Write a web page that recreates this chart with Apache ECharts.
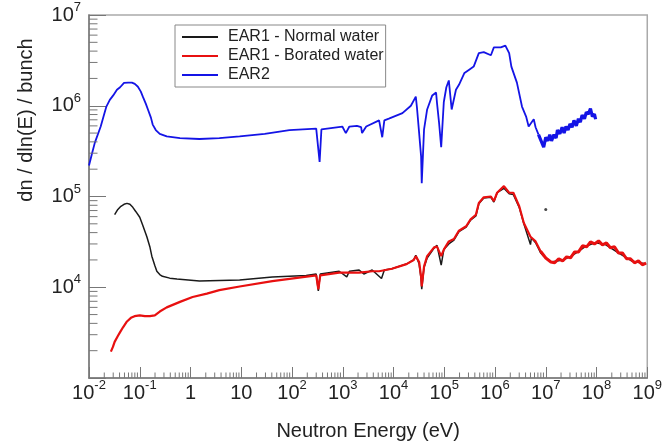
<!DOCTYPE html>
<html><head><meta charset="utf-8">
<script src="https://cdn.jsdelivr.net/npm/echarts@6/dist/echarts.min.js"></script>
<style>html,body{margin:0;padding:0;background:#fff}#c{width:665px;height:446px}</style>
</head><body><div id="c"></div>
<script>
// ---- Data ----
const seriesNames = ['EAR1 - Normal water', 'EAR1 - Borated water', 'EAR2'];

const normalE = [3.2e-2, 3.7e-2, 4.25e-2, 4.9e-2, 5.6e-2, 6.4e-2, 7.3e-2, 8.4e-2, 0.1, 0.115, 0.138, 0.158, 0.173, 0.198, 0.217, 0.248, 0.28, 0.39, 0.54, 1.5, 9.3, 41, 190, 300, 330, 360, 850, 1200, 1350, 2100, 2600, 3800, 5800, 6600, 9300, 1.8e4, 2.5e4, 2.75e4, 3.2e4, 3.5e4, 3.6e4, 4.0e4, 4.6e4, 6.3e4, 7.2e4, 8.7e4, 9.8e4, 1.23e5, 1.55e5, 1.95e5, 2.7e5, 3.3e5, 4.2e5, 4.8e5, 6.0e5, 8.3e5, 9.5e5, 1.1e6, 1.5e6, 1.9e6, 2.3e6, 3.0e6, 3.7e6, 5.0e6, 5.2e6, 6.3e6, 7.9e6, 9.1e6, 1.26e7, 2.2e7, 3.2e7, 6.0e7, 9.5e7, 1.5e8, 2.7e8, 4.9e8, 9.5e8];
const normalV = [6.3e4, 7.2e4, 7.8e4, 8.2e4, 8.4e4, 8.2e4, 7.6e4, 6.8e4, 5.9e4, 4.8e4, 3.6e4, 2.8e4, 2.2e4, 1.74e4, 1.5e4, 1.38e4, 1.32e4, 1.26e4, 1.23e4, 1.17e4, 1.2e4, 1.3e4, 1.35e4, 1.4e4, 9.1e3, 1.4e4, 1.5e4, 1.3e4, 1.5e4, 1.55e4, 1.4e4, 1.55e4, 1.25e4, 1.55e4, 1.6e4, 1.8e4, 2.0e4, 2.25e4, 1.8e4, 1.23e4, 9.5e3, 1.65e4, 2.1e4, 2.7e4, 2.9e4, 1.75e4, 2.6e4, 3.0e4, 3.3e4, 4.1e4, 4.6e4, 5.5e4, 6.1e4, 8.3e4, 9.6e4, 9.8e4, 8.7e4, 1.1e5, 1.23e5, 1.07e5, 1.05e5, 7.6e4, 5.0e4, 2.95e4, 3.5e4, 3.1e4, 2.4e4, 2.2e4, 1.9e4, 2.0e4, 2.2e4, 2.8e4, 3.1e4, 2.95e4, 2.4e4, 1.95e4, 1.8e4];
const normalOutlierE = [1.0e7];
const normalOutlierV = [7.2e4];

const boratedE = [2.7e-2, 2.96e-2, 3.2e-2, 3.7e-2, 4.1e-2, 4.65e-2, 5.6e-2, 6.7e-2, 7.9e-2, 0.1, 0.126, 0.158, 0.198, 0.248, 0.34, 0.62, 1.1, 2.1, 3.7, 9.3, 41, 300, 330, 360, 850, 2100, 3800, 5200, 9300, 1.8e4, 2.5e4, 2.75e4, 3.2e4, 3.5e4, 3.6e4, 4.0e4, 4.6e4, 6.3e4, 7.2e4, 8.7e4, 9.8e4, 1.23e5, 1.55e5, 1.95e5, 2.7e5, 3.3e5, 4.2e5, 4.8e5, 6.0e5, 8.3e5, 9.5e5, 1.1e6, 1.5e6, 1.9e6, 2.3e6, 3.0e6, 3.7e6, 5.0e6, 6.3e6, 7.9e6, 1.0e7, 1.26e7,
  1.5e7, 1.8e7, 2.15e7, 2.57e7, 3.08e7, 3.7e7, 4.43e7, 5.3e7, 6.4e7, 7.6e7, 9.1e7, 1.1e8, 1.31e8, 1.57e8, 1.88e8, 2.26e8, 2.7e8, 3.24e8, 3.9e8, 4.66e8, 5.6e8, 6.7e8, 8.0e8, 9.5e8];
const boratedV = [1.95e3, 2.2e3, 2.5e3, 2.9e3, 3.2e3, 3.6e3, 4.2e3, 4.6e3, 4.8e3, 4.9e3, 4.8e3, 4.8e3, 4.9e3, 5.4e3, 6.0e3, 6.9e3, 7.8e3, 8.5e3, 9.3e3, 1.02e4, 1.17e4, 1.35e4, 9.5e3, 1.35e4, 1.45e4, 1.45e4, 1.5e4, 1.5e4, 1.6e4, 1.8e4, 2.0e4, 2.2e4, 1.9e4, 1.3e4, 1.02e4, 1.7e4, 2.2e4, 2.75e4, 2.8e4, 2.2e4, 2.6e4, 3.2e4, 3.4e4, 4.2e4, 4.7e4, 5.6e4, 6.3e4, 8.5e4, 9.8e4, 1.0e5, 8.9e4, 1.1e5, 1.3e5, 1.1e5, 1.1e5, 7.8e4, 5.1e4, 3.6e4, 3.2e4, 2.5e4, 2.1e4, 1.9e4,
  1.86e4, 2.06e4, 1.95e4, 2.16e4, 2.11e4, 2.45e4, 2.45e4, 2.86e4, 2.79e4, 3.16e4, 3.0e4, 3.24e4, 2.93e4, 3.08e4, 2.72e4, 2.79e4, 2.39e4, 2.39e4, 2.06e4, 2.06e4, 1.86e4, 1.95e4, 1.77e4, 1.84e4];

const ear2E = [1.0e-2, 1.15e-2, 1.3e-2, 1.7e-2, 1.97e-2, 2.2e-2, 2.57e-2, 3.0e-2, 3.55e-2, 4.1e-2, 4.9e-2, 5.9e-2, 7.0e-2, 8.0e-2, 9.2e-2, 0.105, 0.115, 0.132, 0.145, 0.166, 0.18, 0.207, 0.248, 0.34, 0.62, 1.5, 3.7, 9.3, 29, 89, 300, 350, 380, 980, 1150, 1350, 1900, 2300, 2400, 2900, 5200, 6000, 6600, 8100, 1.5e4, 2.2e4, 2.75e4, 2.9e4, 3.2e4, 3.5e4, 3.6e4, 4.0e4, 4.6e4, 5.8e4, 6.9e4, 7.2e4, 7.9e4, 8.7e4, 9.8e4, 1.1e5, 1.23e5, 1.4e5, 1.7e5, 1.95e5, 2.5e5, 3.1e5, 3.8e5, 4.8e5, 6.0e5, 8.3e5, 9.5e5, 1.3e6, 1.6e6, 1.9e6, 2.1e6, 2.7e6, 3.4e6, 4.1e6, 4.6e6, 5.8e6, 6.3e6, 7.2e6,
  9.1e6, 1.0e7, 1.1e7, 1.2e7, 1.3e7, 1.45e7, 1.6e7, 1.7e7, 1.9e7, 2.1e7, 2.3e7, 2.5e7, 2.75e7, 3.0e7, 3.3e7, 3.6e7, 4.0e7, 4.4e7, 4.8e7, 5.2e7, 5.8e7, 6.3e7, 6.9e7, 7.6e7, 8.3e7, 9.1e7, 9.6e7];
const ear2V = [2.2e5, 3.0e5, 3.9e5, 5.9e5, 7.9e5, 9.8e5, 1.16e6, 1.3e6, 1.5e6, 1.6e6, 1.79e6, 1.8e6, 1.8e6, 1.74e6, 1.62e6, 1.43e6, 1.26e6, 1.05e6, 9.1e5, 7.4e5, 6.2e5, 5.4e5, 4.9e5, 4.6e5, 4.4e5, 4.3e5, 4.4e5, 4.6e5, 4.9e5, 5.4e5, 5.6e5, 2.4e5, 5.5e5, 5.9e5, 5.0e5, 5.9e5, 6.0e5, 5.8e5, 5.0e5, 5.9e5, 6.9e5, 4.5e5, 6.9e5, 7.2e5, 8.3e5, 1.0e6, 1.26e6, 9.5e5, 5.0e5, 2.75e5, 1.4e5, 5.5e5, 9.1e5, 1.3e6, 1.4e6, 1.07e6, 6.5e5, 3.5e5, 1.1e6, 1.6e6, 1.9e6, 9.1e5, 1.5e6, 1.7e6, 2.3e6, 2.5e6, 2.7e6, 3.8e6, 3.9e6, 3.6e6, 4.4e6, 4.4e6, 4.6e6, 3.8e6, 2.7e6, 1.8e6, 9.8e5, 7.6e5, 5.9e5, 7.1e5, 5.8e5, 4.8e5,
  3.5e5, 4.5e5, 4.1e5, 4.8e5, 4.1e5, 4.8e5, 4.4e5, 5.4e5, 4.9e5, 5.8e5, 5.0e5, 5.9e5, 5.4e5, 6.3e5, 5.8e5, 6.9e5, 6.0e5, 7.2e5, 6.6e5, 7.9e5, 7.2e5, 8.5e5, 8.1e5, 9.3e5, 7.6e5, 8.1e5, 7.1e5];

// Energy above which the measured points form a thick noisy band
const ear2BandFrom = 7.2e6;
const boratedBandFrom = 7.9e6;

// Axis ticks / labels
const xMajor = [1e-2, 1e-1, 1, 10, 1e2, 1e3, 1e4, 1e5, 1e6, 1e7, 1e8, 1e9];
const xTickLabels = ['10{s|-2}', '10{s|-1}', '1', '10', '10{s|2}', '10{s|3}', '10{s|4}', '10{s|5}', '10{s|6}', '10{s|7}', '10{s|8}', '10{s|9}'];
const yMajor = [1e3, 1e4, 1e5, 1e6, 1e7];
const yTickLabels = ['10{s|3}', '10{s|4}', '10{s|5}', '10{s|6}', '10{s|7}'];

// ---- Build ----
const zip = (a, b) => a.map((v, i) => [v, b[i]]);
const head = (pts, e) => pts.filter(p => p[0] <= e);
const tail = (pts, e) => pts.filter(p => p[0] >= e);
function minorOf(majors) {
  const out = [];
  for (let i = 0; i < majors.length - 1; i++) for (let m = 2; m <= 9; m++) out.push(majors[i] * m);
  return out;
}
const xMinor = minorOf(xMajor), yMinor = minorOf(yMajor);
const FONT = 'Liberation Sans';
const TXT = '#222';
const AX = '#777';
const BLK = '#1a1a1a', RED = '#e81010', BLU = '#1414e6';
const rich = { s: { fontSize: 13, fontFamily: FONT, color: TXT, verticalAlign: 'top', lineHeight: 14 } };
const findIdx = (arr, v) => arr.findIndex(m => Math.abs(Math.log10(m) - Math.log10(v)) < 0.01);

const boratedPts = zip(boratedE, boratedV);
const ear2Pts = zip(ear2E, ear2V);

const chart = echarts.init(document.getElementById('c'), null, { renderer: 'canvas' });
chart.setOption({
  animation: false,
  backgroundColor: '#fff',
  grid: { left: 89, right: 16, top: 15, bottom: 67, show: true, borderColor: '#aaa', borderWidth: 1.5, backgroundColor: 'transparent' },
  legend: {
    data: seriesNames, orient: 'vertical', left: 175, top: 25,
    icon: 'rect', itemWidth: 36, itemHeight: 2, itemGap: 1,
    padding: [3, 2, 3, 7], borderColor: '#888', borderWidth: 1, backgroundColor: '#fff',
    textStyle: { fontSize: 16, fontFamily: FONT, color: TXT, padding: [0, 0, 0, 5], lineHeight: 18 }
  },
  xAxis: {
    type: 'log', logBase: 10, min: 1e-2, max: 1e9,
    name: 'Neutron Energy (eV)', nameLocation: 'middle', nameGap: 43,
    nameTextStyle: { fontSize: 20, fontFamily: FONT, color: TXT },
    axisLine: { show: true, lineStyle: { color: AX, width: 1.5 } },
    axisTick: { show: true, inside: true, length: 11, lineStyle: { color: AX }, customValues: xMajor },
    axisLabel: {
      show: true, margin: 1, fontSize: 20, fontFamily: FONT, color: TXT, lineHeight: 28, rich: rich,
      customValues: xMajor,
      formatter: v => xTickLabels[findIdx(xMajor, v)]
    },
    splitLine: { show: false }
  },
  yAxis: {
    type: 'log', logBase: 10, min: 1e3, max: 1e7,
    axisLine: { show: true, lineStyle: { color: AX, width: 1.5 } },
    axisTick: { show: true, inside: true, length: 17, lineStyle: { color: AX }, customValues: yMajor },
    axisLabel: {
      show: true, margin: 8, fontSize: 20, fontFamily: FONT, color: TXT, lineHeight: 28, rich: rich,
      customValues: yMajor.slice(1),
      formatter: v => yTickLabels[findIdx(yMajor, v)]
    },
    splitLine: { show: false }
  },
  graphic: [{
    type: 'text', x: 26, y: 120, rotation: Math.PI / 2,
    style: { text: 'dn / dln(E) / bunch', fontSize: 20, fontFamily: FONT, fill: TXT, align: 'center', verticalAlign: 'middle' }
  }],
  series: [
    { name: seriesNames[0], type: 'line', data: zip(normalE, normalV), symbol: 'none', color: BLK, lineStyle: { width: 1.5, color: BLK }, z: 2 },
    { name: seriesNames[0], type: 'scatter', data: zip(normalOutlierE, normalOutlierV), symbolSize: 3, color: BLK, z: 2 },
    { name: seriesNames[1], type: 'line', data: head(boratedPts, boratedBandFrom), symbol: 'none', color: RED, lineStyle: { width: 2.2, color: RED }, z: 3 },
    { name: seriesNames[1], type: 'line', data: tail(boratedPts, boratedBandFrom), symbol: 'none', color: RED, lineStyle: { width: 3, color: RED }, z: 3 },
    { name: seriesNames[2], type: 'line', data: head(ear2Pts, ear2BandFrom), symbol: 'none', color: BLU, lineStyle: { width: 1.8, color: BLU }, z: 3 },
    { name: seriesNames[2], type: 'line', data: tail(ear2Pts, ear2BandFrom), symbol: 'none', color: BLU, lineStyle: { width: 3.2, color: BLU }, z: 3 },
    {
      type: 'custom', silent: true, z: 5, data: xMinor.map(v => [v, 1e3]),
      renderItem: (p, api) => { const c = api.coord([api.value(0), api.value(1)]); return { type: 'line', shape: { x1: c[0], y1: c[1], x2: c[0], y2: c[1] - 5.5 }, style: { stroke: AX, lineWidth: 1 } }; }
    },
    {
      type: 'custom', silent: true, z: 5, data: yMinor.map(v => [1e-2, v]),
      renderItem: (p, api) => { const c = api.coord([api.value(0), api.value(1)]); return { type: 'line', shape: { x1: c[0], y1: c[1], x2: c[0] + 8.5, y2: c[1] }, style: { stroke: AX, lineWidth: 1 } }; }
    }
  ]
});
</script></body></html>
